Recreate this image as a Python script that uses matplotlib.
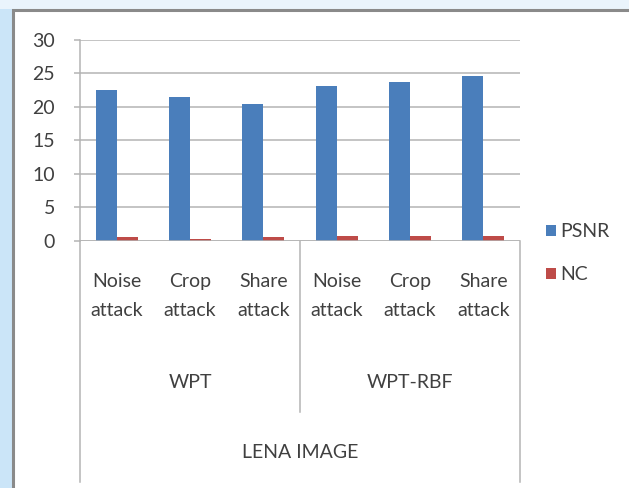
import matplotlib
matplotlib.use("Agg")
import matplotlib.pyplot as plt
import matplotlib.transforms as mtransforms
from matplotlib.patches import Rectangle
import numpy as np

# chart data
attacks = ["Noise\nattack", "Crop\nattack", "Share\nattack",
           "Noise\nattack", "Crop\nattack", "Share\nattack"]
methods = ["WPT", "WPT-RBF"]
image_name = "LENA IMAGE"
psnr = [22.5, 21.5, 20.4, 23.1, 23.7, 24.5]
nc = [0.45, 0.25, 0.5, 0.6, 0.6, 0.6]
yticks = [0, 5, 10, 15, 20, 25, 30]

W, H = 629, 488
plt.rcParams['font.family'] = ['Lato', 'DejaVu Sans']
txt = '#404040'
blue = '#4a7ebb'
red = '#be4b48'
grid = '#b4b4b4'


def fy(ypx):
    return 1 - ypx / H


def fx(xpx):
    return xpx / W


fig = plt.figure(figsize=(W / 100, H / 100), dpi=100)
fig.patch.set_facecolor('white')

# page background outside the chart frame
fig.add_artist(Rectangle((0, 0), fx(12), 1, transform=fig.transFigure,
                         facecolor='#cbe5f8', edgecolor='none', zorder=0))
fig.add_artist(Rectangle((0, fy(9)), 1, 9 / H, transform=fig.transFigure,
                         facecolor='#eaf4fc', edgecolor='none', zorder=0))
fig.add_artist(Rectangle((fx(13), -0.05), 1.1, fy(10) + 0.05,
                         transform=fig.transFigure, facecolor='white',
                         edgecolor='#8a8a8a', lw=2.2, zorder=1))

ax = fig.add_axes([fx(80), fy(240.5), fx(520) - fx(80), (240.5 - 39.6) / H])
ax.set_zorder(2)
ax.patch.set_alpha(0)

x = np.arange(len(attacks))
w = 1 / 3.5
ax.bar(x - w / 2, psnr, w, color=blue, label='PSNR', zorder=3)
ax.bar(x + w / 2, nc, w, color=red, label='NC', zorder=3)

ax.set_xlim(-0.5, len(attacks) - 0.5)
ax.set_ylim(0, 30)
ax.set_yticks(yticks)
ax.yaxis.grid(True, color=grid, lw=1.1)
ax.set_axisbelow(True)
for s in ['top', 'right', 'bottom']:
    ax.spines[s].set_visible(False)
ax.spines['left'].set_color(grid)
ax.spines['left'].set_linewidth(1.1)
ax.tick_params(axis='y', colors=grid, length=4, width=1.1, pad=14,
               labelcolor=txt, labelsize=14)
ax.set_xticks([])
ax.axhline(0, color=grid, lw=1.1, zorder=4)

# multi-level category axis
tr = mtransforms.blended_transform_factory(ax.transData, fig.transFigure)
ax.plot([-0.5, -0.5], [fy(240.5), fy(482)], color=grid, lw=1.1,
        transform=tr, clip_on=False)
ax.plot([2.5, 2.5], [fy(240.5), fy(412)], color=grid, lw=1.1,
        transform=tr, clip_on=False)
ax.plot([5.5, 5.5], [fy(240.5), fy(482)], color=grid, lw=1.1,
        transform=tr, clip_on=False)

for xi, lab in zip(x, attacks):
    ax.text(xi, fy(296), lab, transform=tr, ha='center', va='center',
            fontsize=14, color=txt, linespacing=1.8)
for i, m in enumerate(methods):
    ax.text(3 * i + 1, fy(383), m, transform=tr, ha='center', va='center',
            fontsize=14, color=txt)
ax.text(2.5, fy(452), image_name, transform=tr, ha='center', va='center',
        fontsize=14, color=txt)

leg = fig.legend(loc='upper left', bbox_to_anchor=(fx(546), fy(223)),
                 frameon=False, fontsize=14, handlelength=0.5,
                 handleheight=0.5, handletextpad=0.25, labelspacing=1.35,
                 borderpad=0, borderaxespad=0, labelcolor=txt)

fig.savefig('out.png', dpi=100)
